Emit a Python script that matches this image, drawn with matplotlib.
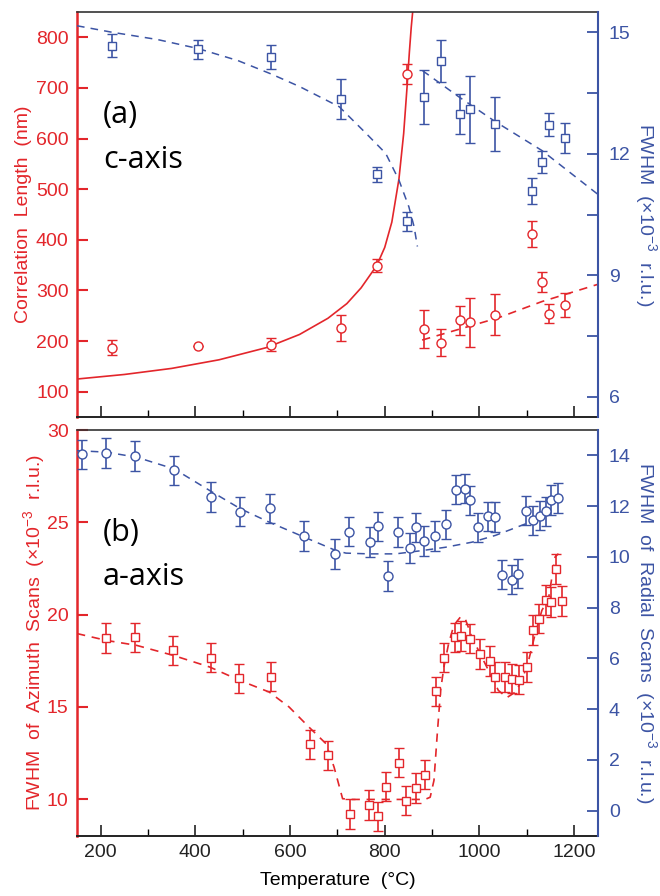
import matplotlib
matplotlib.use('Agg')
import matplotlib.pyplot as plt
import numpy as np

plt.rcParams['font.family'] = ['Liberation Sans Narrow', 'Liberation Sans', 'DejaVu Sans']
plt.rcParams['mathtext.default'] = 'regular'

red = '#e3262b'
blue = '#3c54a4'

# ---- panel (a) c-axis ----
# correlation length (left axis, red circles)
a_T_corr = [224, 405, 560, 708, 784, 847, 883, 918, 958, 980, 1032, 1112, 1132, 1146, 1181]
a_corr = [187, 190, 193, 226, 349, 728, 224, 197, 241, 237, 252, 412, 316, 254, 271]
a_corr_err = [15, 0, 13, 26, 13, 20, 37, 26, 29, 48, 40, 26, 20, 19, 24]
# FWHM (right axis, blue squares)
a_T_fwhm = [224, 405, 560, 708, 784, 847, 883, 918, 958, 980, 1032, 1111, 1132, 1146, 1181]
a_fwhm = [14.67, 14.58, 14.39, 13.35, 11.49, 10.33, 13.41, 14.29, 12.98, 13.10, 12.74, 11.07, 11.80, 12.72, 12.40]
a_fwhm_err = [0.29, 0.23, 0.29, 0.49, 0.19, 0.23, 0.67, 0.52, 0.49, 0.83, 0.66, 0.32, 0.28, 0.29, 0.37]

# fit curves
fit_a_corr1_T = [150, 250, 350, 450, 550, 620, 680, 720, 750, 783, 800, 815, 830, 840, 847, 852, 856, 860]
fit_a_corr1 = [125, 134, 146, 163, 187, 213, 245, 274, 305, 349, 385, 435, 520, 610, 700, 770, 820, 860]
fit_a_corr2_T = [879, 1040, 1132, 1250]
fit_a_corr2 = [202, 246, 278, 312]
fit_a_fwhm1_T = [150, 224, 320, 405, 490, 560, 620, 704, 760, 802, 830, 851, 862, 869]
fit_a_fwhm1 = [15.16, 15.0, 14.82, 14.6, 14.3, 13.97, 13.66, 13.16, 12.51, 12.01, 11.35, 10.69, 10.2, 9.71]
fit_a_fwhm2_T = [880, 956, 1034, 1132, 1250]
fit_a_fwhm2 = [14.05, 13.41, 12.79, 12.08, 11.0]

# ---- panel (b) a-axis ----
# FWHM of azimuth scans (left axis, red squares)
b_T_az = [212, 272, 353, 433, 492, 559, 643, 680, 727, 767, 786, 803, 830, 845, 867, 885,
          909, 926, 948, 961, 980, 1001, 1022, 1033, 1053, 1068, 1084, 1101, 1114, 1126,
          1141, 1151, 1162, 1175]
b_az = [18.73, 18.77, 18.06, 17.67, 16.54, 16.64, 12.96, 12.37, 9.2, 9.69, 9.06, 10.68, 11.97, 9.92, 10.61, 11.33,
        15.84, 17.67, 18.77, 18.84, 18.7, 17.85, 17.49, 16.62, 16.62, 16.53, 16.47, 17.16, 19.15, 19.78,
        20.78, 20.68, 22.46, 20.74]
b_az_err = 0.8
# FWHM of radial scans (right axis, blue circles)
b_T_rad = [161, 212, 272, 355, 433, 495, 558, 630, 695, 725, 769, 786, 807, 828, 853, 865, 884,
           906, 930, 950, 970, 981, 997, 1019, 1033, 1048, 1068, 1081, 1099, 1113, 1129, 1141,
           1151, 1167]
b_rad = [14.04, 14.09, 13.97, 13.41, 12.36, 11.79, 11.92, 10.82, 10.12, 11.0, 10.58, 11.2, 9.24, 10.98, 10.36, 11.17, 10.62,
         10.82, 11.28, 12.65, 12.69, 12.23, 11.17, 11.6, 11.57, 9.3, 9.1, 9.34, 11.82, 11.44, 11.63, 11.8,
         12.25, 12.33]
b_rad_err = 0.58

fit_b_az_T = [150, 212, 276, 353, 430, 493, 556, 598, 640, 676, 693, 711, 730, 800, 885, 896, 904, 911, 918,
              925, 935, 946, 960, 970, 984, 1005, 1026, 1040, 1058, 1076, 1090, 1104, 1118, 1132, 1146, 1160, 1167]
fit_b_az = [18.97, 18.6, 18.33, 17.79, 17.16, 16.44, 15.8, 14.99, 13.9, 13.0, 11.73, 10.02, 9.98, 9.98, 9.98, 10.1, 11.01, 13.54, 15.89,
            17.16, 18.43, 19.42, 19.87, 19.78, 18.78, 17.7, 16.62, 15.89, 15.5, 15.8, 16.44, 17.52, 18.97, 20.23, 20.87, 23.13, 23.3]
fit_b_rad_T = [150, 212, 276, 355, 430, 495, 556, 630, 697, 718, 767, 823, 879, 928, 984, 1034, 1097, 1105]
fit_b_rad = [14.19, 14.13, 13.93, 13.47, 12.62, 11.9, 11.37, 10.78, 10.25, 10.15, 10.12, 10.12, 10.25, 10.38, 10.58, 10.85, 11.3, 11.38]

fig = plt.figure(figsize=(6.6, 8.96), dpi=100)
ax1 = fig.add_axes([0.1167, 0.5346, 0.789, 0.452])
ax2 = fig.add_axes([0.1167, 0.067, 0.789, 0.453])
ax1r = ax1.twinx()
ax2r = ax2.twinx()

dash = (0, (5, 4))
mk = dict(mfc='white', capsize=3.5, elinewidth=1.2, capthick=1.2, mew=1.0, linestyle='none')

# panel a
ax1.plot(fit_a_corr1_T, fit_a_corr1, color=red, lw=1.2)
ax1.plot(fit_a_corr2_T, fit_a_corr2, color=red, lw=1.2, linestyle=dash)
ax1.errorbar(a_T_corr, a_corr, yerr=a_corr_err, fmt='o', ms=6.5, color=red, mec=red, **mk)
ax1r.plot(fit_a_fwhm1_T, fit_a_fwhm1, color=blue, lw=1.1, linestyle=dash)
ax1r.plot(fit_a_fwhm2_T, fit_a_fwhm2, color=blue, lw=1.1, linestyle=dash)
ax1r.errorbar(a_T_fwhm, a_fwhm, yerr=a_fwhm_err, fmt='s', ms=5.5, color=blue, mec=blue, **mk)

# panel b
ax2.plot(fit_b_az_T, fit_b_az, color=red, lw=1.2, linestyle=dash)
ax2.errorbar(b_T_az, b_az, yerr=b_az_err, fmt='s', ms=6, color=red, mec=red, **mk)
ax2r.plot(fit_b_rad_T, fit_b_rad, color=blue, lw=1.1, linestyle=dash)
ax2r.errorbar(b_T_rad, b_rad, yerr=b_rad_err, fmt='o', ms=6.5, color=blue, mec=blue, **mk)

ax1.set_ylim(50, 850)
ax1.set_yticks(range(100, 801, 100))
ax1r.set_ylim(5.5, 15.5)
ax1r.set_yticks([6, 9, 12, 15])
ax1r.set_yticks([7.5, 10.5, 13.5], minor=True)
ax2.set_ylim(8, 30)
ax2.set_yticks([10, 15, 20, 25, 30])
ax2r.set_ylim(-1, 15)
ax2r.set_yticks(range(0, 15, 2))

for a in (ax1, ax2):
    a.set_xlim(150, 1250)
    a.set_xticks(range(200, 1201, 200))
    a.set_xticks(range(300, 1201, 200), minor=True)
    a.tick_params(axis='x', which='major', direction='in', length=8, width=1.2, top=False, labelsize=14, pad=6)
    a.tick_params(axis='x', which='minor', direction='in', length=5, width=1.0, top=False)
    a.tick_params(axis='y', which='major', direction='in', length=8, width=1.5, colors=red, labelsize=14, pad=6)
    a.spines['left'].set_color(red)
    a.spines['left'].set_linewidth(1.8)
    a.spines['right'].set_visible(False)
    a.spines['top'].set_color('#333333')
    a.spines['bottom'].set_color('#222222')
    a.spines['top'].set_linewidth(1.2)
    a.spines['bottom'].set_linewidth(1.4)
    a.tick_params(axis='x', colors='#222222')
ax1.tick_params(axis='x', labelbottom=False)

for a in (ax1r, ax2r):
    a.spines['left'].set_visible(False)
    a.spines['top'].set_visible(False)
    a.spines['bottom'].set_visible(False)
    a.spines['right'].set_color(blue)
    a.spines['right'].set_linewidth(1.5)
    a.tick_params(axis='y', which='major', direction='in', length=8, width=1.3, colors=blue, labelsize=14, pad=8)
    a.tick_params(axis='y', which='minor', direction='in', length=8, width=1.3, colors=blue)

ax1.set_ylabel('Correlation  Length  (nm)', color=red, fontsize=14, labelpad=3)
ax1r.set_ylabel(r'FWHM  ($\times$10$^{-3}$  r.l.u.)', color=blue, fontsize=14, rotation=-90, labelpad=20)
ax2.set_ylabel(r'FWHM  of  Azimuth  Scans  ($\times$10$^{-3}$  r.l.u.)', color=red, fontsize=14, labelpad=0)
ax2r.set_ylabel(r'FWHM  of  Radial  Scans  ($\times$10$^{-3}$  r.l.u.)', color=blue, fontsize=14, rotation=-90, labelpad=20)
ax2.set_xlabel('Temperature  (°C)', fontsize=14, labelpad=8)

ax1.text(0.05, 0.746, '(a)', fontsize=22, family=['Open Sans', 'DejaVu Sans'], va='center', transform=ax1.transAxes)
ax1.text(0.05, 0.635, 'c-axis', fontsize=22, family=['Open Sans', 'DejaVu Sans'], va='center', transform=ax1.transAxes)
ax2.text(0.05, 0.746, '(b)', fontsize=22, family=['Open Sans', 'DejaVu Sans'], va='center', transform=ax2.transAxes)
ax2.text(0.05, 0.638, 'a-axis', fontsize=22, family=['Open Sans', 'DejaVu Sans'], va='center', transform=ax2.transAxes)

fig.savefig('out.png', dpi=100)
